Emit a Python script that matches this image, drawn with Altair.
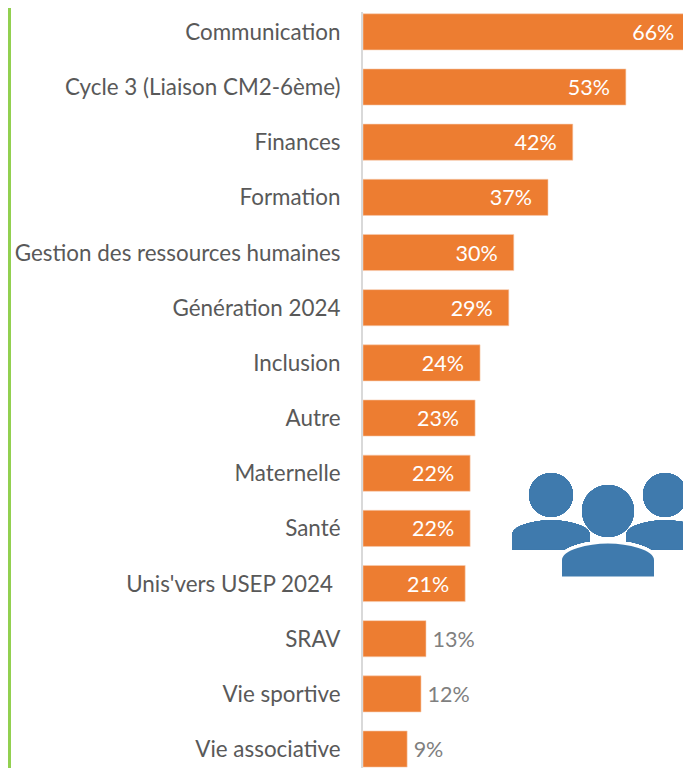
import altair as alt
import pandas as pd

categories = ["Communication", "Cycle 3 (Liaison CM2-6ème)", "Finances", "Formation",
              "Gestion des ressources humaines", "Génération 2024", "Inclusion", "Autre",
              "Maternelle", "Santé", "Unis'vers USEP 2024\u2004\u200b", "SRAV", "Vie sportive",
              "Vie associative"]
values = [66.0, 53.0, 42.3, 37.3, 30.4, 29.4, 23.6, 22.6, 21.6, 21.6, 20.6, 12.7, 11.7, 8.9]
labels = ["66%", "53%", "42%", "37%", "30%", "29%", "24%", "23%", "22%", "22%", "21%", "13%", "12%", "9%"]

ORANGE = "#ED7D31"
BLUE = "#3F7AAD"
FONT = "Lato"

df = pd.DataFrame({"cat": categories, "v": values, "label": labels})

x = alt.X("v:Q", scale=alt.Scale(domain=[0, 66.13], range=[0, 328], nice=False, zero=True), axis=None)
y = alt.Y("cat:N", sort=categories, title=None,
          scale=alt.Scale(range=[-3.6, 768.5], paddingInner=0.345, paddingOuter=0.17),
          axis=alt.Axis(labelFont=FONT, labelFontSize=22.4, labelColor="#595959", labelLimit=400,
                        labelPadding=23, labelOffset=1, ticks=False, domain=False, grid=False))

bars = alt.Chart(df).mark_bar(color=ORANGE, stroke="#F7CDB0", strokeWidth=0.6).encode(x=x, y=y)
inside = alt.Chart(df).transform_filter("datum.v >= 20").mark_text(
    align="right", baseline="middle", dx=-16, dy=2, font=FONT, fontSize=21.5, color="white"
).encode(x=x, y=y, text="label:N")
outside = alt.Chart(df).transform_filter("datum.v < 20").mark_text(
    align="left", baseline="middle", dx=6.5, dy=2, font=FONT, fontSize=21.5, color="#7F7F7F"
).encode(x=x, y=y, text="label:N")

axis_line = alt.Chart(df).mark_rule(color="#D9D9D9", strokeWidth=2).encode(
    x=alt.value(-1), y=alt.value(4), y2=alt.value(760))
side_line = alt.Chart(df).mark_rule(color="#92D050", strokeWidth=3).encode(
    x=alt.value(-353.5), y=alt.value(0), y2=alt.value(760))

BODY = "M-1,0.38 L-1,0 C-1,-0.25 -0.4,-0.38 0,-0.38 C0.4,-0.38 1,-0.25 1,0 L1,0.38 Z"


def body(px, py, w, **kw):
    return alt.Chart(df).mark_point(shape=BODY, filled=True, fill=BLUE, opacity=1, size=w * w, **kw).encode(
        x=alt.value(px), y=alt.value(py))


def head(px, py, r, **kw):
    return alt.Chart(df).mark_point(shape="circle", filled=True, fill=BLUE, opacity=1, size=4 * r * r, **kw).encode(
        x=alt.value(px), y=alt.value(py))


icon = [
    body(188, 527, 78), head(188, 487, 22),
    body(302, 527, 78), head(302, 487, 22),
    body(245, 552, 95, stroke="white", strokeWidth=3), head(245, 503, 26),
]

chart = alt.layer(bars, inside, outside, axis_line, side_line, *icon).properties(
    width=320, height=760,
    padding={"left": 355, "top": 0, "right": 0, "bottom": 0},
    autosize=alt.AutoSizeParams(type="none"),
).configure_view(stroke=None)

chart.save("out.html", embed_options={"renderer": "svg", "actions": False})
